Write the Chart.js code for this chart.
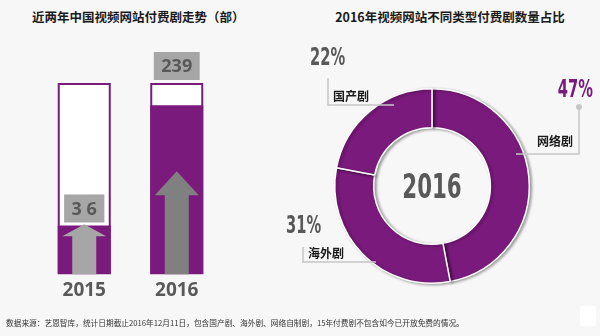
<!DOCTYPE html>
<html>
<head>
<meta charset="utf-8">
<script src="https://cdn.jsdelivr.net/npm/chart.js@4"></script>
<style>
  html, body { margin: 0; padding: 0; }
  body {
    width: 600px; height: 336px; background: #f7f7f7;
    position: relative; overflow: hidden;
    font-family: "Noto Sans CJK SC", sans-serif;
  }
  .title {
    position: absolute; top: 8px; font-weight: bold; font-size: 12.5px;
    line-height: 18px; color: #1a1a1a; white-space: nowrap;
  }
  #leftTitle { left: 32px; }
  #rightTitle { left: 300px; width: 300px; text-align: center; }
  canvas { position: absolute; top: 0; }
  #barChart { left: 0; }
  #ringChart { left: 260px; }
  #note {
    position: absolute; left: 6px; top: 317px; font-size: 7.7px;
    line-height: 12px; color: #333; white-space: nowrap;
  }
  #corner { position: absolute; left: 580px; top: 306px; width: 16px; height: 20px; background: #fff; }
</style>
</head>
<body>
<div class="title" id="leftTitle">近两年中国视频网站付费剧走势（部）</div>
<div class="title" id="rightTitle">2016年视频网站不同类型付费剧数量占比</div>
<canvas id="barChart" width="300" height="336"></canvas>
<canvas id="ringChart" width="340" height="336"></canvas>
<div id="note">数据来源：艺恩智库，统计日期截止2016年12月11日，包含国产剧、海外剧、网络自制剧，15年付费剧不包含如今已开放免费的情况。</div>
<div id="corner"></div>
<script>
const years = ["2015", "2016"];
const paidDramaCounts = [36, 239];
const countLabels = ["3 6", "239"];

const dramaTypes = ["网络剧", "海外剧", "国产剧"];
const typeShares = [47, 31, 22];
const ringCenterLabel = "2016";

const PURPLE = "#7a1a7c";
const TEXT_GRAY = "#595959";
const LINE_GRAY = "#c6c6c6";

// arrows drawn inside each column (purely decorative)
const arrowStyle = [
  { color: "#a6a6a6", length: 50, head: 12 },
  { color: "#808080", length: 103, head: 24 },
];

// callout geometry relative to the ring centre
const callouts = [
  { // 网络剧
    path: [[147, -79], [147, -32], [84, -32]], dot: true,
    label: [141, -45], labelAlign: "right",
    pct: [161, -89], pctAlign: "right", pctColor: PURPLE,
  },
  { // 海外剧
    path: [[-129, 61], [-129, 76], [-56, 76]],
    label: [-124, 67], labelAlign: "left",
    pct: [-146, 47], pctAlign: "left", pctColor: TEXT_GRAY,
  },
  { // 国产剧
    path: [[-104, -108], [-104, -81], [-38, -81]],
    label: [-99, -90], labelAlign: "left",
    pct: [-122, -121], pctAlign: "left", pctColor: TEXT_GRAY,
  },
];

function drawNarrow(ctx, text, x, y, size, align, color, squeeze) {
  ctx.save();
  ctx.font = `bold ${size}px "DejaVu Sans Condensed", "DejaVu Sans", sans-serif`;
  ctx.fillStyle = color;
  ctx.textAlign = "left";
  ctx.textBaseline = "alphabetic";
  const w = ctx.measureText(text).width * squeeze;
  const left = align === "left" ? x : align === "right" ? x - w : x - w / 2;
  ctx.translate(left, y);
  ctx.scale(squeeze, 1);
  ctx.fillText(text, 0, 0);
  ctx.restore();
}

const columnPlugin = {
  id: "columns",
  beforeDatasetsDraw(chart) {
    const { ctx, chartArea } = chart;
    const h = chartArea.bottom - chartArea.top;
    chart.getDatasetMeta(0).data.forEach((bar) => {
      const left = bar.x - bar.width / 2;
      ctx.save();
      ctx.fillStyle = "#fff";
      ctx.fillRect(left, chartArea.top, bar.width, h);
      ctx.strokeStyle = PURPLE;
      ctx.lineWidth = 2;
      ctx.strokeRect(left + 1, chartArea.top + 1, bar.width - 2, h - 2);
      ctx.restore();
    });
  },
  afterDatasetsDraw(chart) {
    const { ctx, chartArea } = chart;
    chart.getDatasetMeta(0).data.forEach((bar, i) => {
      const a = arrowStyle[i];
      const cx = bar.x;
      const bottom = chartArea.bottom;
      const tip = bottom - a.length;
      ctx.save();
      ctx.fillStyle = a.color;
      ctx.beginPath();
      ctx.moveTo(cx, tip);
      ctx.lineTo(cx + 22, tip + a.head);
      ctx.lineTo(cx + 12, tip + a.head);
      ctx.lineTo(cx + 12, bottom);
      ctx.lineTo(cx - 12, bottom);
      ctx.lineTo(cx - 12, tip + a.head);
      ctx.lineTo(cx - 22, tip + a.head);
      ctx.closePath();
      ctx.fill();

      // value box
      ctx.font = 'bold 18px "Open Sans", sans-serif';
      const tw = ctx.measureText(countLabels[i]).width;
      const bw = tw + 15, bh = 28;
      let boxBottom = bar.y - 3;
      if (boxBottom - bh < chartArea.top + 10) boxBottom = chartArea.top - 3;
      ctx.fillStyle = "#a6a6a6";
      ctx.fillRect(cx - bw / 2, boxBottom - bh, bw, bh);
      ctx.fillStyle = TEXT_GRAY;
      ctx.textAlign = "center";
      ctx.textBaseline = "middle";
      ctx.fillText(countLabels[i], cx, boxBottom - bh / 2 + 1);
      ctx.restore();
    });
  },
};

new Chart(document.getElementById("barChart"), {
  type: "bar",
  data: {
    labels: years,
    datasets: [
      {
        data: paidDramaCounts,
        backgroundColor: PURPLE,
        borderWidth: 0,
        barPercentage: 0.573,
        categoryPercentage: 1,
      },
    ],
  },
  options: {
    responsive: false,
    animation: false,
    layout: { padding: { left: 38, right: 77, top: 83, bottom: 29 } },
    plugins: { legend: { display: false }, tooltip: { enabled: false } },
    scales: {
      x: {
        grid: { display: false, drawTicks: false },
        border: { display: false },
        ticks: {
          color: TEXT_GRAY,
          padding: 5,
          font: { family: "'Open Sans', sans-serif", size: 19, weight: "bold" },
        },
      },
      y: { type: "logarithmic", display: false, min: 16.7, max: 340, bounds: "data" },
    },
  },
  plugins: [columnPlugin],
});

const ringPlugin = {
  id: "ringDecor",
  beforeDatasetsDraw(chart) {
    const ctx = chart.ctx;
    ctx.save();
    ctx.shadowColor = "rgba(0,0,0,0.35)";
    ctx.shadowBlur = 3;
    ctx.shadowOffsetX = 2;
    ctx.shadowOffsetY = 1;
  },
  afterDatasetsDraw(chart) {
    const ctx = chart.ctx;
    ctx.restore();
    const arcs = chart.getDatasetMeta(0).data;
    const cx = arcs[0].x, cy = arcs[0].y;

    drawNarrow(ctx, ringCenterLabel, cx, cy + 12, 33, "center", TEXT_GRAY, 0.72);

    callouts.forEach((c, i) => {
      ctx.save();
      ctx.strokeStyle = LINE_GRAY;
      ctx.lineWidth = 1.5;
      ctx.beginPath();
      c.path.forEach(([dx, dy], k) => {
        if (k === 0) ctx.moveTo(cx + dx, cy + dy);
        else ctx.lineTo(cx + dx, cy + dy);
      });
      ctx.stroke();
      if (c.dot) {
        ctx.fillStyle = LINE_GRAY;
        ctx.beginPath();
        ctx.arc(cx + c.path[0][0], cy + c.path[0][1], 3, 0, Math.PI * 2);
        ctx.fill();
      }
      ctx.font = 'bold 12px "Noto Sans CJK SC", sans-serif';
      ctx.fillStyle = "#1a1a1a";
      ctx.textAlign = c.labelAlign;
      ctx.textBaseline = "middle";
      ctx.fillText(dramaTypes[i], cx + c.label[0], cy + c.label[1]);
      ctx.restore();

      drawNarrow(ctx, typeShares[i] + "%", cx + c.pct[0], cy + c.pct[1], 24, c.pctAlign, c.pctColor, 0.68);
    });
  },
};

new Chart(document.getElementById("ringChart"), {
  type: "doughnut",
  data: {
    labels: dramaTypes,
    datasets: [
      {
        data: typeShares,
        backgroundColor: PURPLE,
        borderColor: "#ffffff",
        borderWidth: 1.5,
      },
    ],
  },
  options: {
    responsive: false,
    animation: false,
    cutout: "60%",
    layout: { padding: { left: 74, right: 70, top: 88, bottom: 52 } },
    plugins: { legend: { display: false }, tooltip: { enabled: false } },
  },
  plugins: [ringPlugin],
});
</script>
</body>
</html>
